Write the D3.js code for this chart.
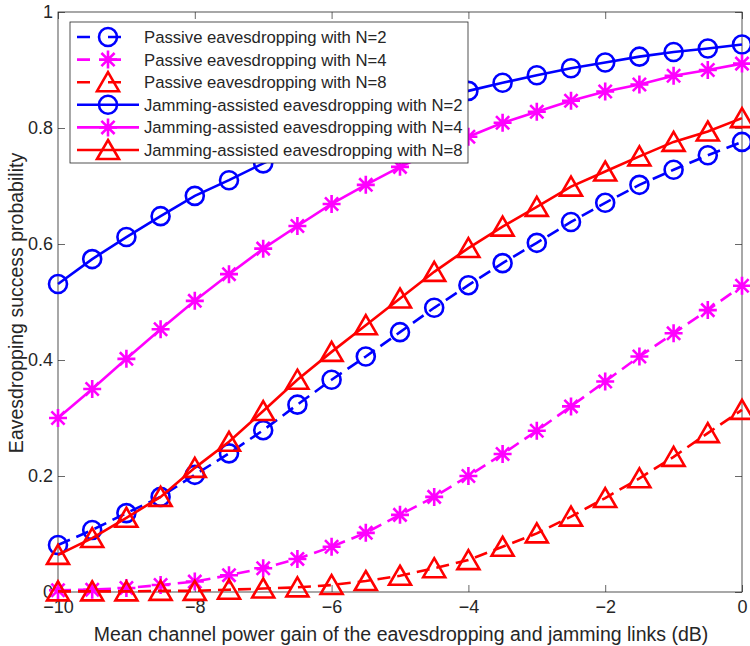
<!DOCTYPE html>
<html>
<head>
<meta charset="utf-8">
<script src="https://cdn.jsdelivr.net/npm/d3@7"></script>
<style>
body { margin: 0; background: #fff; }
text { font-family: "Liberation Sans", Arial, sans-serif; fill: #262626; }
</style>
</head>
<body>
<svg width="750" height="646"></svg>
<script>
// x values (dB)
const gains = [-10, -9.5, -9, -8.5, -8, -7.5, -7, -6.5, -6, -5.5, -5, -4.5, -4, -3.5, -3, -2.5, -2, -1.5, -1, -0.5, 0];

// series values
const passiveN2 = [0.081, 0.107, 0.136, 0.164, 0.202, 0.239, 0.279, 0.323, 0.366, 0.406, 0.448, 0.490, 0.529, 0.567, 0.602, 0.638, 0.671, 0.702, 0.728, 0.753, 0.776];
const passiveN4 = [0.003, 0.004, 0.007, 0.012, 0.018, 0.029, 0.041, 0.057, 0.078, 0.102, 0.133, 0.164, 0.200, 0.238, 0.278, 0.320, 0.363, 0.406, 0.446, 0.486, 0.528];
const passiveN8 = [0.001, 0.001, 0.001, 0.002, 0.002, 0.004, 0.006, 0.008, 0.012, 0.019, 0.028, 0.041, 0.055, 0.078, 0.101, 0.130, 0.162, 0.196, 0.233, 0.274, 0.314];
const jammingN2 = [0.531, 0.574, 0.612, 0.648, 0.683, 0.710, 0.739, 0.765, 0.789, 0.811, 0.831, 0.849, 0.864, 0.878, 0.891, 0.903, 0.913, 0.923, 0.931, 0.937, 0.944];
const jammingN4 = [0.300, 0.350, 0.402, 0.453, 0.502, 0.548, 0.592, 0.631, 0.669, 0.702, 0.733, 0.760, 0.785, 0.809, 0.828, 0.847, 0.863, 0.875, 0.890, 0.900, 0.911];
const jammingN8 = [0.064, 0.093, 0.128, 0.164, 0.214, 0.259, 0.312, 0.366, 0.414, 0.460, 0.506, 0.552, 0.593, 0.630, 0.664, 0.699, 0.725, 0.751, 0.776, 0.794, 0.817];

const xTicks = [-10, -8, -6, -4, -2, 0];
const yTicks = [0, 0.2, 0.4, 0.6, 0.8, 1];

const series = [
    {name: "Passive eavesdropping with N=2", values: passiveN2, color: "#0000ff", dash: "13,7", marker: "circle"},
    {name: "Passive eavesdropping with N=4", values: passiveN4, color: "#ff00ff", dash: "13,7", marker: "star"},
    {name: "Passive eavesdropping with N=8", values: passiveN8, color: "#ff0000", dash: "13,7", marker: "triangle"},
    {name: "Jamming-assisted eavesdropping with N=2", values: jammingN2, color: "#0000ff", dash: null, marker: "circle"},
    {name: "Jamming-assisted eavesdropping with N=4", values: jammingN4, color: "#ff00ff", dash: null, marker: "star"},
    {name: "Jamming-assisted eavesdropping with N=8", values: jammingN8, color: "#ff0000", dash: null, marker: "triangle"}
];

const svg = d3.select("svg");
const mLeft = 58, mRight = 742, mTop = 12, mBottom = 592;
const axisColor = "#262626";

const xScale = d3.scaleLinear().domain([-10, 0]).range([mLeft, mRight]);
const yScale = d3.scaleLinear().domain([0, 1]).range([mBottom, mTop]);

function markerPath(type) {
    if (type == "circle") {
        return "M-9,0A9,9 0 1,0 9,0A9,9 0 1,0 -9,0Z";
    } else if (type == "star") {
        const s = 9, d = 6.6;
        return "M0,-"+s+"V"+s+"M-"+s+",0H"+s+"M-"+d+",-"+d+"L"+d+","+d+"M-"+d+","+d+"L"+d+",-"+d;
    } else {
        return "M0,-10L11,9L-11,9Z";
    }
}

// axes (ticks point inward, box on)
const g = svg.append("g");
g.append("g")
    .attr("transform", "translate(0,"+mBottom+")")
    .call(d3.axisBottom(xScale).tickValues(xTicks).tickSizeInner(-7).tickSizeOuter(0).tickPadding(8).tickFormat(d3.format("d")))
    .call(a => a.select(".domain").remove());
g.append("g")
    .attr("transform", "translate(0,"+mTop+")")
    .call(d3.axisTop(xScale).tickValues(xTicks).tickSizeInner(-7).tickSizeOuter(0).tickFormat(""))
    .call(a => a.select(".domain").remove());
g.append("g")
    .attr("transform", "translate("+mLeft+",0)")
    .call(d3.axisLeft(yScale).tickValues(yTicks).tickSizeInner(-7).tickSizeOuter(0).tickPadding(5).tickFormat(d => d == 0 || d == 1 ? d3.format("d")(d) : d3.format(".1f")(d)))
    .call(a => a.select(".domain").remove());
g.append("g")
    .attr("transform", "translate("+mRight+",0)")
    .call(d3.axisRight(yScale).tickValues(yTicks).tickSizeInner(-7).tickSizeOuter(0).tickFormat(""))
    .call(a => a.select(".domain").remove());
g.selectAll(".tick line").attr("stroke", axisColor).attr("stroke-width", 0.7);
g.selectAll(".tick text").attr("font-size", 18).attr("font-family", "Liberation Sans, Arial, sans-serif").attr("fill", axisColor);

svg.append("rect")
    .attr("x", mLeft).attr("y", mTop)
    .attr("width", mRight-mLeft).attr("height", mBottom-mTop)
    .attr("fill", "none").attr("stroke", axisColor).attr("stroke-width", 0.8);

// axis labels
svg.append("text")
    .attr("x", (mLeft+mRight)/2 + 1).attr("y", 641)
    .attr("text-anchor", "middle").attr("font-size", 19.5)
    .text("Mean channel power gain of the eavesdropping and jamming links (dB)");
svg.append("text")
    .attr("transform", "translate(23,303) rotate(-90)")
    .attr("text-anchor", "middle").attr("font-size", 19.5)
    .text("Eavesdropping success probability");

// the curves
const line = d3.line()
    .x((d, i) => xScale(gains[i]))
    .y(d => yScale(d));

series.forEach(function(s) {
    const sg = svg.append("g");
    sg.append("path")
        .attr("d", line(s.values))
        .attr("fill", "none")
        .attr("stroke", s.color)
        .attr("stroke-width", 2.6)
        .attr("stroke-dasharray", s.dash);
    sg.selectAll("path.mk")
        .data(s.values)
        .enter()
        .append("path")
        .attr("class", "mk")
        .attr("transform", (d, i) => "translate("+xScale(gains[i])+","+yScale(d)+")")
        .attr("d", markerPath(s.marker))
        .attr("fill", "none")
        .attr("stroke", s.color)
        .attr("stroke-width", 2.6);
});

// legend
const lg = svg.append("g");
lg.append("rect")
    .attr("x", 70).attr("y", 22).attr("width", 398).attr("height", 141)
    .attr("fill", "#fff").attr("stroke", axisColor).attr("stroke-width", 0.8);
series.forEach(function(s, i) {
    const yy = 37 + i*22.6;
    lg.append("line")
        .attr("x1", 77).attr("x2", 139).attr("y1", yy).attr("y2", yy)
        .attr("stroke", s.color).attr("stroke-width", 2.6)
        .attr("stroke-dasharray", s.dash ? "13,18" : null);
    lg.append("path")
        .attr("transform", "translate(108,"+yy+")")
        .attr("d", markerPath(s.marker))
        .attr("fill", "none").attr("stroke", s.color).attr("stroke-width", 2.6);
    lg.append("text")
        .attr("x", 144).attr("y", yy).attr("dy", "0.36em")
        .attr("font-size", 16.7)
        .text(s.name);
});
</script>
</body>
</html>
